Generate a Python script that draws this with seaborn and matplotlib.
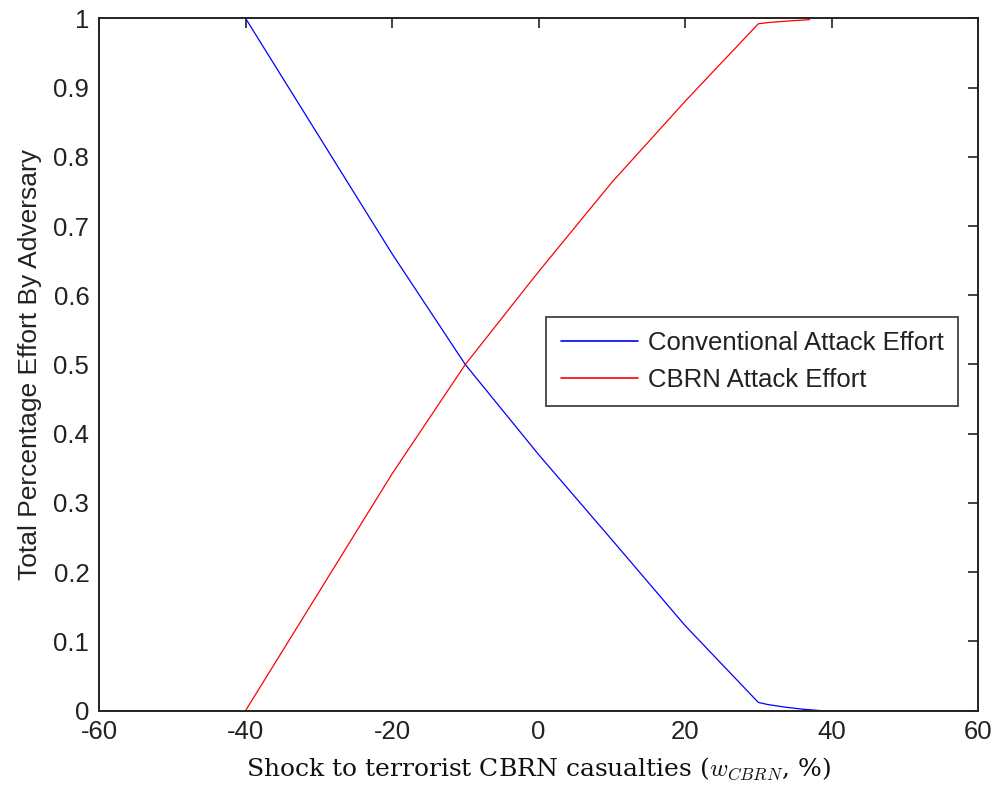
import matplotlib
matplotlib.use("Agg")
import matplotlib.pyplot as plt
import seaborn as sns
import pandas as pd
from matplotlib.ticker import FuncFormatter

# Data
conv_x = [-40, -30, -20, -10, 0, 10, 20, 30, 31.25, 33.75, 36.25, 38.75]
conv_y = [1.0, 0.83, 0.66, 0.50, 0.37, 0.247, 0.123, 0.012, 0.009, 0.005, 0.002, 0.0]
cbrn_x = [-40, -30, -20, -10, 0, 10, 20, 30, 31.5, 34.0, 37.0]
cbrn_y = [0.0, 0.171, 0.342, 0.50, 0.634, 0.763, 0.88, 0.992, 0.994, 0.996, 0.998]
series_names = ["Conventional Attack Effort", "CBRN Attack Effort"]
x_ticks = [-60, -40, -20, 0, 20, 40, 60]
y_ticks = [0, 0.1, 0.2, 0.3, 0.4, 0.5, 0.6, 0.7, 0.8, 0.9, 1.0]

df = pd.concat([
    pd.DataFrame({"x": conv_x, "y": conv_y, "series": series_names[0]}),
    pd.DataFrame({"x": cbrn_x, "y": cbrn_y, "series": series_names[1]}),
], ignore_index=True)

sns.set_style("white")
plt.rcParams["font.family"] = ["Liberation Sans", "DejaVu Sans"]
plt.rcParams["axes.unicode_minus"] = False
plt.rcParams["mathtext.fontset"] = "cm"

fig = plt.figure(figsize=(9.95, 7.91), dpi=100)
ax = fig.add_axes([0.0995, 0.1015, 0.8835, 0.8754])

sns.lineplot(data=df, x="x", y="y", hue="series", hue_order=series_names,
             palette={series_names[0]: "#0000ff", series_names[1]: "#ff0000"},
             linewidth=0.9, sort=False, estimator=None, ax=ax)

ax.set_xlim(-60, 60)
ax.set_ylim(0, 1)
ax.set_xticks(x_ticks)
ax.set_yticks(y_ticks)
ax.xaxis.set_major_formatter(FuncFormatter(lambda v, p: f"{v:g}"))
ax.yaxis.set_major_formatter(FuncFormatter(lambda v, p: f"{v:g}"))
ax.tick_params(direction="in", length=7, width=1.2, top=True, right=True,
               labelsize=18.5, colors="#222222", pad=7)
for s in ax.spines.values():
    s.set_visible(True)
    s.set_color("#222222")
    s.set_linewidth(1.4)

ax.set_xlabel(r"Shock to terrorist CBRN casualties ($w_{CBRN}$, %)",
              family="DejaVu Serif", fontsize=18, color="#111111", labelpad=8)
ax.set_ylabel("Total Percentage Effort By Adversary", fontsize=19,
              color="#222222", labelpad=8)

leg = ax.legend(loc="upper right", bbox_to_anchor=(0.977, 0.569), borderaxespad=0,
                fontsize=18.5, frameon=True, fancybox=False, handlelength=3.0,
                handletextpad=0.4, borderpad=0.55, labelspacing=0.5)
leg.get_frame().set_edgecolor("#222222")
leg.get_frame().set_linewidth(1.4)
for line in leg.get_lines():
    line.set_linewidth(1.2)
for t in leg.get_texts():
    t.set_color("#222222")

fig.savefig("out.png", dpi=100, facecolor="white")
